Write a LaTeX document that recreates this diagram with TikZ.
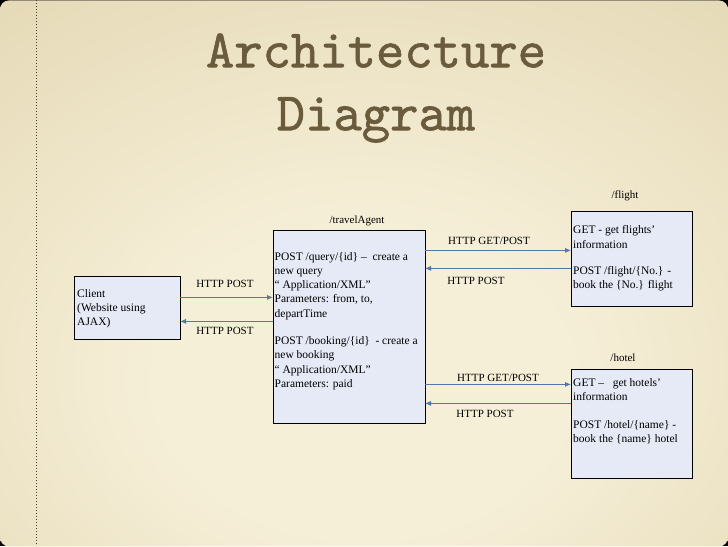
\documentclass[tikz,border=0pt]{standalone}
\usepackage{fontspec}
\setmainfont{Liberation Serif}
\newfontfamily\titlefont[FakeBold=1.1]{lmmono10-regular.otf}
\usetikzlibrary{positioning,arrows.meta}

\definecolor{paperin}{HTML}{F6EFD8}
\definecolor{paperout}{HTML}{D9CA9E}
\definecolor{ink}{HTML}{6A5B3D}
\definecolor{boxfill}{HTML}{E6EAF6}
\definecolor{wireblue}{HTML}{5177B0}
\pgfdeclareradialshading{paper}{\pgfpoint{0bp}{-12bp}}{color(0bp)=(paperin); color(14bp)=(paperin); color(60bp)=(paperout); color(85bp)=(paperout)}

\begin{document}
\begin{tikzpicture}[x=1pt, y=-1pt,
	main/.style = {draw, fill=boxfill, line width=0.7pt, inner sep=0pt, outer sep=0pt},
	txt/.style = {anchor=north west, align=left, inner sep=0pt, font=\fontsize{11.5}{14.3}\selectfont},
	lbl/.style = {inner sep=0pt, text height=0.75em, text depth=0.25em, font=\fontsize{11}{13}\selectfont},
	link/.style = {draw=wireblue, line width=0.8pt, -{Latex[length=6pt,width=5pt]}}]
		\fill[black] (0,0) rectangle (728,546);
		\shade[shading=paper, rounded corners=9pt] (0,0) rectangle (728,546);
		\draw[ink!70!black, line width=0.8pt, dash pattern=on 0.9pt off 2.1pt] (36.5,0) -- (36.5,546);
		\node[font=\titlefont\fontsize{54}{63}\selectfont, text=ink, align=center, inner sep=0pt, anchor=north] (title) at (376,33) {Architecture\\Diagram};
		\node[main, minimum width=106pt, minimum height=63pt] (1) at (127,307.5) {};
		\node[main, minimum width=152pt, minimum height=193pt] (2) at (349,326.5) {};
		\node[main, minimum width=121pt, minimum height=95pt] (3) at (631.5,258.5) {};
		\node[main, minimum width=121pt, minimum height=109pt] (4) at (631.5,423.5) {};
		\node[txt] (1t) [below right=12.5pt and 3pt of 1.north west] {Client\\(Website using\\AJAX)};
		\node[txt] (2t) [below right=21.5pt and 1.5pt of 2.north west] {POST /query/\{id\} --\ \ create a\\new query\\“ Application/XML”\\Parameters: from, to,\\departTime\\[13pt]POST /booking/\{id\}\ \ - create a\\new booking\\“ Application/XML”\\Parameters: paid};
		\node[txt] (3t) [below right=14pt and 2pt of 3.north west] {GET - get flights'\\information\\[12pt]POST /flight/\{No.\} -\\book the \{No.\} flight};
		\node[txt] (4t) [below right=9pt and 2pt of 4.north west] {GET --\ \ \ get hotels'\\information\\[13pt]POST /hotel/\{name\} -\\book the \{name\} hotel};
		\node[lbl] (2l) [above=4.5pt of 2, xshift=8pt] {/travelAgent};
		\node[lbl] (3l) [above=10.5pt of 3, xshift=-6.5pt] {/flight};
		\node[lbl] (4l) [above=5.5pt of 4, xshift=-8.5pt] {/hotel};
		\draw[link] (1.east |- 0,297) -- node[lbl, above=7.5pt, xshift=-1.5pt] {HTTP POST} (2.west |- 0,297);
		\draw[link] (2.west |- 0,321) -- node[lbl, below=5.5pt, xshift=-1.5pt] {HTTP POST} (1.east |- 0,321);
		\draw[link] (2.east |- 0,250) -- node[lbl, above=3.5pt, xshift=-9pt] {HTTP GET/POST} (3.west |- 0,250);
		\draw[link] (3.west |- 0,268) -- node[lbl, below=8.5pt, xshift=-22pt] {HTTP POST} (2.east |- 0,268);
		\draw[link] (2.east |- 0,384) -- node[lbl, above=0pt] {HTTP GET/POST} (4.west |- 0,384);
		\draw[link] (4.west |- 0,403) -- node[lbl, below=6.5pt, xshift=-13pt] {HTTP POST} (2.east |- 0,403);
	\end{tikzpicture}
\end{document}
